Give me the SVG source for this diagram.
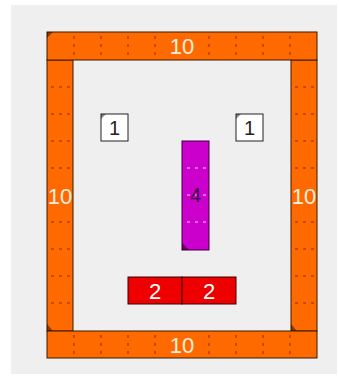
<svg xmlns="http://www.w3.org/2000/svg" width="339" height="376" viewBox="0 0 339 376">
<style>
.or{fill:#ff6a00;stroke:#3a1a00;stroke-width:1}
.tk{stroke:#b04000;stroke-width:1.5;stroke-dasharray:3 5;stroke-dashoffset:-2}
.pk{stroke:#f080f0;stroke-width:1.5;stroke-dasharray:3 5;stroke-dashoffset:-2}
.lbw{font-family:"Liberation Sans",Arial,sans-serif;font-size:22px;fill:#ffeedd;text-anchor:middle;dominant-baseline:central}
.lbk{font-family:"Liberation Sans",Arial,sans-serif;font-size:20px;fill:#222;text-anchor:middle;dominant-baseline:central}
.cn{fill:#000;opacity:0.45}
</style>
<rect x="0" y="0" width="339" height="376" fill="#ffffff"/>
<rect x="11" y="5" width="326" height="369" fill="#efefef"/>
<g id="left10">
<rect class="or" x="47" y="60" width="26" height="271"/>
<path class="tk" d="M49 87H71M49 114H71M49 141H71M49 168H71M49 222H71M49 249H71M49 276H71M49 303H71"/>
<path class="cn" d="M47 324L47 331L53 331Z"/>
<text class="lbw" x="60" y="196">10</text>
</g>
<g id="right10">
<rect class="or" x="291" y="60" width="26" height="271"/>
<path class="tk" d="M293 87H315M293 114H315M293 141H315M293 168H315M293 222H315M293 249H315M293 276H315M293 303H315"/>
<path class="cn" d="M291 324L291 331L297 331Z"/>
<text class="lbw" x="304" y="196">10</text>
</g>
<g id="top10">
<rect class="or" x="47" y="32" width="270" height="28"/>
<path class="tk" d="M74 34V58M101 34V58M128 34V58M155 34V58M209 34V58M236 34V58M263 34V58M290 34V58"/>
<path class="cn" d="M47 32L53 32L47 38Z"/>
<text class="lbw" x="182" y="46">10</text>
</g>
<g id="bottom10">
<rect class="or" x="47" y="331" width="270" height="27"/>
<path class="tk" d="M74 333V356M101 333V356M128 333V356M155 333V356M209 333V356M236 333V356M263 333V356M290 333V356"/>
<text class="lbw" x="182" y="345">10</text>
</g>
<g id="cube1left">
<rect x="101" y="114" width="27" height="27" fill="#ffffff" stroke="#222" stroke-width="1"/>
<path class="cn" d="M101 114L106 114L101 119Z"/>
<text class="lbk" x="114.5" y="128">1</text>
</g>
<g id="cube1right">
<rect x="236" y="114" width="27" height="27" fill="#ffffff" stroke="#222" stroke-width="1"/>
<path class="cn" d="M236 114L241 114L236 119Z"/>
<text class="lbk" x="249.5" y="128">1</text>
</g>
<g id="rod4">
<rect x="182" y="141" width="27" height="109" fill="#cc00cc" stroke="#3a003a" stroke-width="1"/>
<path class="pk" d="M185 168H206M185 195H206M185 222H206"/>
<path class="cn" d="M182 243L182 250L189 250Z"/>
<text class="lbk" x="195.5" y="195" style="fill:#3a0040">4</text>
</g>
<g id="rod2a">
<rect x="128" y="277" width="54" height="27" fill="#ee0000" stroke="#3a0000" stroke-width="1"/>
<text class="lbw" x="155" y="291" style="fill:#fff">2</text>
</g>
<g id="rod2b">
<rect x="182" y="277" width="54" height="27" fill="#ee0000" stroke="#3a0000" stroke-width="1"/>
<text class="lbw" x="209" y="291" style="fill:#fff">2</text>
</g>
<g id="connectors"></g>
</svg>
